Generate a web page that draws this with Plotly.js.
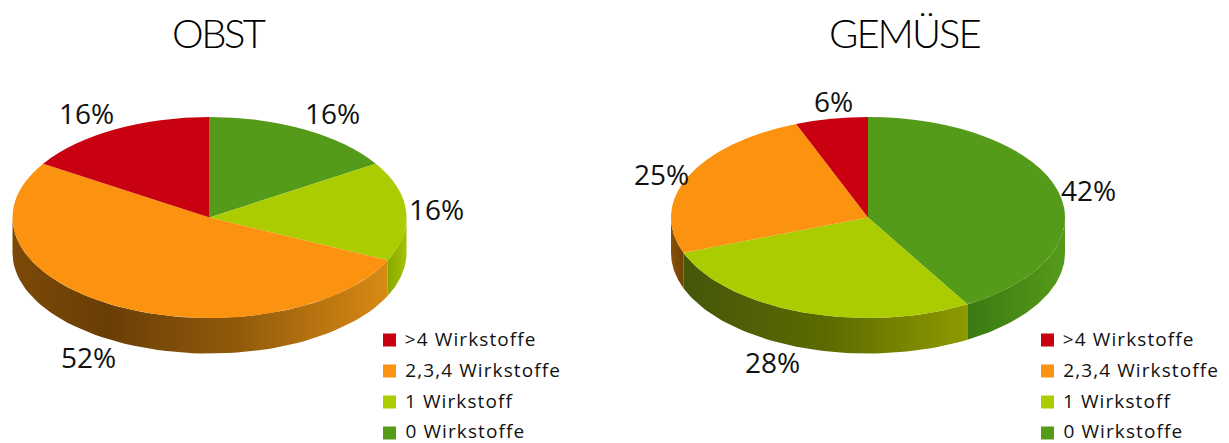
<!DOCTYPE html>
<html>
<head>
<meta charset="utf-8">
<script src="https://cdn.plot.ly/plotly-3.0.1.min.js"></script>
<style>
html,body{margin:0;padding:0;background:#fff}
</style>
</head>
<body>
<div id="chart" style="width:1229px;height:443px"></div>
<script>
// ---- data ----
const categories = ['>4 Wirkstoffe', '2,3,4 Wirkstoffe', '1 Wirkstoff', '0 Wirkstoffe'];
const obstValues = [16, 52, 16, 16];
const gemueseValues = [6, 25, 28, 42];
const chartTitles = ['OBST', 'GEMÜSE'];

// ---- styles ----
const sliceColors = ['#c8000f', '#fb9210', '#aacc00', '#559b1a'];
const obstWalls = [
  [[0, '#7a0008'], [1, '#a0000c']],
  [[0, '#7c4a08'], [0.25, '#693e05'], [0.6, '#915a0a'], [1, '#d98a14']],
  [[0, '#8aa800'], [1, '#a4c400']],
  [[0, '#3a7a12'], [1, '#559b1a']]
];
const gemueseWalls = [
  [[0, '#7a0008'], [1, '#a0000c']],
  [[0, '#8a5208'], [1, '#6e4205']],
  [[0, '#45560a'], [0.5, '#5c6a00'], [1, '#8f9a00']],
  [[0, '#3a7a12'], [1, '#559b1a']]
];
const geo = {cy: 217.5, rx: 197, ry: 100.5, depth: 35.5};
const pies = [
  {values: obstValues, walls: obstWalls, cx: 209.5,
   labels: [[86, 113], [88, 357], [436, 209], [332, 113]], legendX: 383, title: [218, 33]},
  {values: gemueseValues, walls: gemueseWalls, cx: 868,
   labels: [[833, 101], [661, 174], [772, 362], [1088, 190]], legendX: 1041, title: [904, 33]}
];
const legendY = [340, 371, 402, 433];
const legendTextY = [339, 370, 401, 431];
const legendSpacing = 1.1;
const W = 1229, H = 443;

const traces = [], annotations = [], shapes = [];

function wallTrace(p, a0, a1, scale) {
  const lo = Math.max(a0, 90), hi = Math.min(a1, 270);
  if (hi <= lo) return null;
  const xs = [], ys = [], step = (hi - lo) / 60;
  for (let i = 0; i <= 60; i++) {
    const t = (lo + i * step) * Math.PI / 180;
    xs.push(p.cx + geo.rx * Math.sin(t));
    ys.push(geo.cy - geo.ry * Math.cos(t));
  }
  for (let i = 60; i >= 0; i--) {
    const t = (lo + i * step) * Math.PI / 180;
    xs.push(p.cx + geo.rx * Math.sin(t));
    ys.push(geo.cy - geo.ry * Math.cos(t) + geo.depth);
  }
  xs.push(xs[0]); ys.push(ys[0]);
  return {
    type: 'scatter', x: xs, y: ys, mode: 'lines', line: {width: 0},
    fill: 'toself', hoverinfo: 'skip', showlegend: false,
    fillgradient: {type: 'horizontal', colorscale: scale}
  };
}

pies.forEach((p, pi) => {
  const total = p.values.reduce((a, b) => a + b, 0);
  // side walls: the first category ends at 12 o'clock, the rest follow counter-clockwise
  let cum = 0;
  p.values.forEach((v, i) => {
    const a1 = 360 - cum / total * 360;
    cum += v;
    const a0 = 360 - cum / total * 360;
    const w = wallTrace(p, a0, a1, p.walls[i]);
    if (w) traces.push(w);
  });
  traces.push({
    type: 'pie',
    labels: categories.slice().reverse(), values: p.values.slice().reverse(), sort: false,
    direction: 'clockwise', rotation: 0, textinfo: 'none',
    hoverinfo: 'label+percent', showlegend: false,
    marker: {colors: sliceColors.slice().reverse(), line: {width: 0}},
    domain: {
      x: [(p.cx - geo.rx) / W, (p.cx + geo.rx) / W],
      y: [1 - (geo.cy + geo.rx) / H, 1 - (geo.cy - geo.rx) / H]
    }
  });
  p.values.forEach((v, i) => {
    annotations.push({
      xref: 'x', yref: 'y', x: p.labels[i][0], y: p.labels[i][1], text: v + '%',
      showarrow: false, xanchor: 'center', yanchor: 'middle',
      font: {family: 'Open Sans', size: 28, color: '#111'}
    });
    annotations.push({
      xref: 'x', yref: 'y', x: p.legendX + 20, y: legendTextY[i], text: categories[i],
      xshift: categories[i].length * legendSpacing / 2,
      showarrow: false, xanchor: 'left', yanchor: 'middle',
      font: {family: 'Open Sans', size: 19, color: '#111'}
    });
    shapes.push({
      type: 'rect', xref: 'x', yref: 'y', x0: p.legendX, x1: p.legendX + 13,
      y0: legendY[i] - 6.5, y1: legendY[i] + 6.5,
      fillcolor: sliceColors[i], line: {width: 0}
    });
  });
  annotations.push({
    xref: 'x', yref: 'y', x: p.title[0], y: p.title[1], text: chartTitles[pi],
    showarrow: false, xanchor: 'center', yanchor: 'middle',
    font: {family: 'Lato', size: 40, weight: 300, color: '#000'}
  });
});

const layout = {
  width: W, height: H, margin: {l: 0, r: 0, t: 0, b: 0, pad: 0},
  paper_bgcolor: '#fff', plot_bgcolor: '#fff', showlegend: false,
  xaxis: {range: [0, W], visible: false, fixedrange: true},
  yaxis: {range: [H, 0], visible: false, fixedrange: true},
  annotations, shapes
};

Plotly.newPlot('chart', traces, layout, {displayModeBar: false}).then(gd => {
  const s = geo.ry / geo.rx;
  gd.querySelectorAll('.pielayer .trace').forEach(g => {
    g.setAttribute('transform', `translate(0,${geo.cy}) scale(1,${s}) translate(0,${-geo.cy})`);
  });
  gd.querySelectorAll('.annotation-text-g text, .annotation text').forEach(t => {
    const c = t.textContent;
    if (categories.includes(c)) t.style.letterSpacing = legendSpacing + 'px';
    else if (c === 'OBST') t.style.letterSpacing = '-2.5px';
    else if (c === 'GEMÜSE') t.style.letterSpacing = '-2px';
  });
});
</script>
</body>
</html>
